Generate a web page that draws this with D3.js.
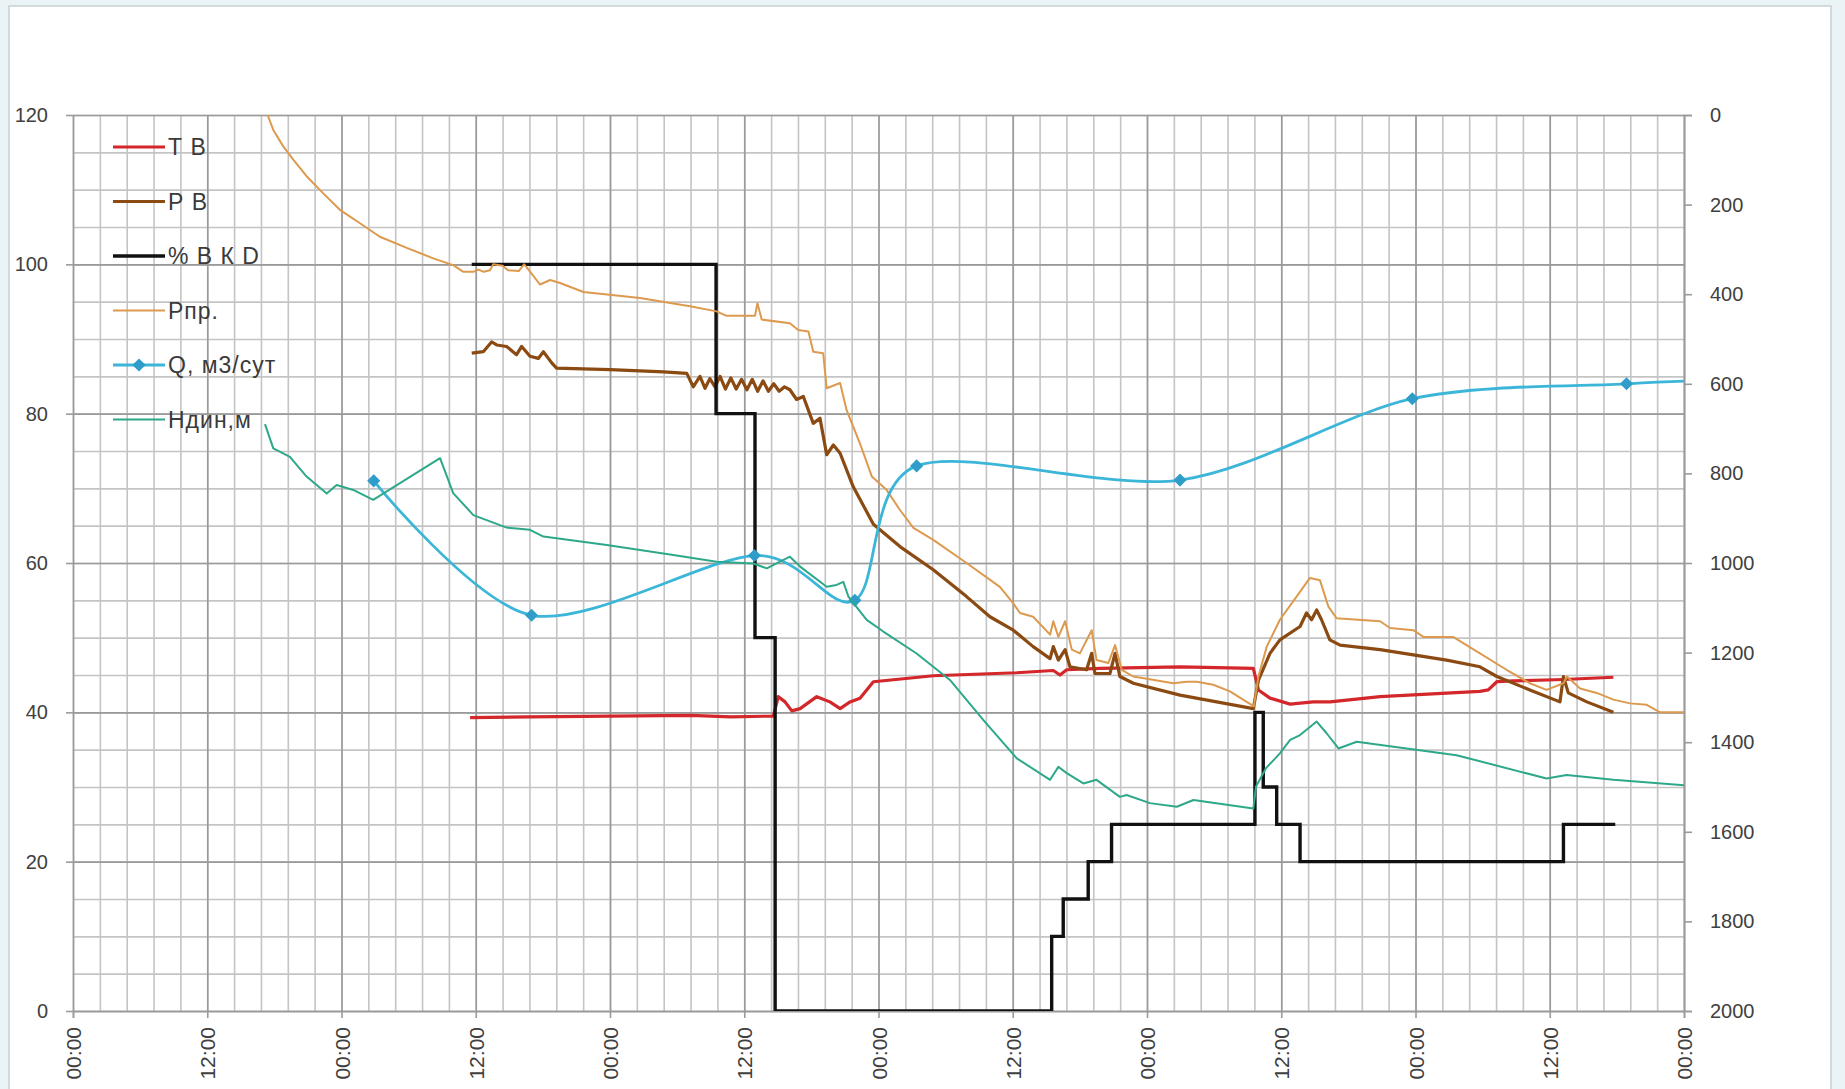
<!DOCTYPE html>
<html>
<head>
<meta charset="utf-8">
<script src="https://cdn.jsdelivr.net/npm/d3@7"></script>
<style>
  html, body { margin: 0; padding: 0; background: #eaf4f7; }
  svg { display: block; font-family: "Liberation Sans", Arial, sans-serif; }
</style>
</head>
<body>
<svg id="chart" width="1845" height="1089"></svg>
<script>
// ---- data: time in days from the start of the period, values as read ----
const xTickLabels = ["00:00","12:00","00:00","12:00","00:00","12:00","00:00","12:00","00:00","12:00","00:00","12:00","00:00"];
const leftTicks = [0, 20, 40, 60, 80, 100, 120];
const rightTicks = [0, 200, 400, 600, 800, 1000, 1200, 1400, 1600, 1800, 2000];

const seriesNames = ["Т В", "Р В", "% В К D", "Рпр.", "Q, м3/сут", "Ндин,м"];
const seriesColors = ["#d3272b", "#8a4a12", "#111111", "#dd9a4f", "#3cb6d8", "#2ea88a"];

// Т В (left axis)
const tempB = [
  [1.479,39.3],[1.70,39.4],[2.0,39.5],[2.3,39.6],[2.45,39.4],[2.608,39.5],
  [2.627,42.1],[2.652,41.4],[2.677,40.2],[2.708,40.5],[2.770,42.1],[2.819,41.4],
  [2.857,40.5],[2.894,41.4],[2.931,41.9],[2.981,44.1],[3.204,44.9],[3.515,45.3],
  [3.651,45.6],[3.676,45.0],[3.701,45.7],[3.825,45.9],[4.123,46.1],[4.396,45.9],
  [4.415,43.0],[4.458,41.9],[4.533,41.1],[4.619,41.4],[4.682,41.4],[4.868,42.1],
  [5.240,42.8],[5.271,43.0],[5.303,44.1],[5.364,44.2],[5.551,44.4],[5.737,44.7]
];

// Р В (left axis)
const pressB = [
  [1.485,88.1],[1.528,88.3],[1.559,89.6],[1.578,89.2],[1.615,89.0],[1.652,87.9],
  [1.671,89.0],[1.702,87.7],[1.733,87.4],[1.752,88.3],[1.783,86.8],[1.801,86.1],
  [2.0,85.9],[2.2,85.6],[2.286,85.4],[2.310,83.6],[2.335,85.0],[2.354,83.4],
  [2.372,84.7],[2.391,83.6],[2.41,85.0],[2.43,83.3],[2.45,84.8],[2.47,83.3],
  [2.49,84.6],[2.51,83.2],[2.53,84.6],[2.55,83.0],[2.57,84.4],[2.59,83.0],
  [2.61,84.0],[2.63,83.0],[2.65,83.6],[2.670,83.2],[2.695,81.9],[2.720,82.3],
  [2.757,78.7],[2.782,79.4],[2.807,74.5],[2.832,75.8],[2.857,74.7],[2.906,70.2],
  [2.981,65.2],[3.080,62.2],[3.204,59.1],[3.328,55.5],[3.415,52.8],[3.502,51.0],
  [3.576,48.8],[3.639,47.2],[3.651,48.8],[3.670,47.0],[3.695,48.4],[3.713,46.1],
  [3.775,45.7],[3.794,47.9],[3.806,45.2],[3.862,45.2],[3.881,47.9],[3.899,44.8],
  [3.949,43.9],[4.123,42.3],[4.396,40.5],[4.415,44.3],[4.458,47.9],[4.495,49.7],
  [4.570,51.5],[4.594,53.3],[4.613,52.4],[4.632,53.7],[4.650,52.4],[4.681,49.7],
  [4.719,49.0],[4.868,48.4],[5.116,47.0],[5.240,46.1],[5.303,44.8],[5.426,43.0],
  [5.538,41.4],[5.551,44.8],[5.569,42.6],[5.638,41.4],[5.737,40.0]
];

// % В К D (left axis, stepped)
const valveOpen = [
  [1.485,100],[2.395,80],[2.540,50],[2.615,0],[3.645,10],[3.688,15],[3.781,20],
  [3.868,25],[4.402,40],[4.433,30],[4.483,25],[4.570,20],[5.551,25],[5.744,25]
];

// Рпр. (left axis)
const pressIntake = [
  [0.715,121.0],[0.727,119.8],[0.746,118.0],[0.783,115.8],[0.821,114.0],[0.870,111.8],
  [0.932,109.5],[0.994,107.3],[1.069,105.5],[1.143,103.7],[1.243,102.2],[1.342,100.8],
  [1.416,99.9],[1.454,99.0],[1.491,99.0],[1.510,99.3],[1.530,99.0],[1.553,99.2],
  [1.565,100.0],[1.600,99.8],[1.620,99.2],[1.660,99.1],[1.680,100.0],[1.690,99.6],
  [1.739,97.3],[1.777,97.9],[1.814,97.5],[1.901,96.3],[2.112,95.5],[2.298,94.4],
  [2.397,93.7],[2.434,93.1],[2.540,93.1],[2.549,94.8],[2.565,92.6],[2.670,92.1],
  [2.701,91.2],[2.739,91.0],[2.757,88.3],[2.794,88.1],[2.807,83.4],[2.857,84.1],
  [2.881,80.5],[2.931,76.0],[2.975,71.6],[3.030,69.8],[3.080,67.1],[3.130,64.7],
  [3.204,63.1],[3.328,60.0],[3.452,56.8],[3.502,54.6],[3.527,53.3],[3.576,52.8],
  [3.639,50.4],[3.651,52.2],[3.670,50.1],[3.695,52.2],[3.720,48.4],[3.750,47.9],
  [3.794,51.0],[3.812,47.0],[3.856,46.6],[3.881,49.0],[3.906,45.7],[3.949,44.8],
  [4.098,43.9],[4.148,44.1],[4.185,44.1],[4.247,43.7],[4.309,42.8],[4.398,40.8],
  [4.415,44.8],[4.446,48.8],[4.495,52.4],[4.557,55.5],[4.607,58.0],[4.644,57.7],
  [4.675,54.2],[4.706,52.6],[4.868,52.2],[4.905,51.3],[4.992,51.0],[5.029,50.1],
  [5.140,50.1],[5.240,47.9],[5.339,45.7],[5.426,43.9],[5.488,43.0],[5.551,43.9],
  [5.564,44.8],[5.613,43.2],[5.675,42.6],[5.737,41.7],[5.799,41.2],[5.861,41.0],
  [5.911,40.0],[6.0,40.0]
];

// Q, м3/сут (left axis, smoothed, with markers)
const flowQ = [
  [1.120,71.0],[1.708,53.0],[2.538,61.0],[2.912,55.0],[3.142,73.0],
  [4.123,71.1],[4.988,82.0],[5.786,84.0],[6.05,84.4]
];

// Ндин,м (right axis, reversed)
const dynLevel = [
  [0.715,690],[0.746,744],[0.808,763],[0.870,807],[0.945,845],[0.982,826],
  [1.044,837],[1.118,859],[1.367,766],[1.416,844],[1.491,893],[1.615,921],
  [1.702,926],[1.752,941],[1.988,960],[2.236,982],[2.397,997],[2.534,1001],
  [2.584,1012],[2.670,986],[2.708,1008],[2.807,1053],[2.844,1049],[2.869,1042],
  [2.888,1075],[2.956,1127],[3.018,1153],[3.142,1202],[3.266,1261],[3.390,1350],
  [3.515,1436],[3.639,1484],[3.670,1455],[3.701,1469],[3.763,1492],[3.812,1484],
  [3.899,1522],[3.924,1518],[4.011,1536],[4.111,1544],[4.173,1529],[4.396,1548],
  [4.406,1499],[4.443,1458],[4.495,1425],[4.533,1395],[4.570,1384],[4.632,1354],
  [4.669,1380],[4.713,1414],[4.781,1399],[5.153,1429],[5.488,1481],[5.563,1473],
  [5.737,1484],[6.0,1496]
];

// ---- layout ----
const svg = d3.select("#chart");
const plot = { left: 73, right: 1684, top: 115, bottom: 1011 };

// chart frame
svg.append("rect")
  .attr("x", 9).attr("y", 6).attr("width", 1822).attr("height", 1100)
  .attr("fill", "#ffffff").attr("stroke", "#c9cfd2").attr("stroke-width", 1.5);

const x = d3.scaleLinear().domain([0, 6]).range([plot.left, plot.right]);
const yL = d3.scaleLinear().domain([0, 120]).range([plot.bottom, plot.top]);
const yR = d3.scaleLinear().domain([0, 2000]).range([plot.top, plot.bottom]);

const grid = svg.append("g");

// minor grid
grid.append("g")
  .attr("transform", `translate(0,${plot.bottom})`)
  .call(d3.axisBottom(x).tickValues(d3.range(0, 60.5, 1).map(d => d / 10)).tickSize(-(plot.bottom - plot.top)).tickFormat(""))
  .call(g => g.select(".domain").remove())
  .call(g => g.selectAll("line").attr("stroke", "#c4c4c4").attr("stroke-width", 1.6));
grid.append("g")
  .attr("transform", `translate(${plot.left},0)`)
  .call(d3.axisLeft(yL).tickValues(d3.range(0, 121, 5)).tickSize(-(plot.right - plot.left)).tickFormat(""))
  .call(g => g.select(".domain").remove())
  .call(g => g.selectAll("line").attr("stroke", "#c4c4c4").attr("stroke-width", 1.6));

// major grid
grid.append("g")
  .attr("transform", `translate(0,${plot.bottom})`)
  .call(d3.axisBottom(x).tickValues(d3.range(0, 13).map(d => d / 2)).tickSize(-(plot.bottom - plot.top)).tickFormat(""))
  .call(g => g.select(".domain").remove())
  .call(g => g.selectAll("line").attr("stroke", "#9a9a9a").attr("stroke-width", 1.6));
grid.append("g")
  .attr("transform", `translate(${plot.left},0)`)
  .call(d3.axisLeft(yL).tickValues(leftTicks).tickSize(-(plot.right - plot.left)).tickFormat(""))
  .call(g => g.select(".domain").remove())
  .call(g => g.selectAll("line").attr("stroke", "#9a9a9a").attr("stroke-width", 1.6));

// axes with labels
const labelColor = "#404040";
const xAxis = svg.append("g")
  .attr("transform", `translate(0,${plot.bottom})`)
  .call(d3.axisBottom(x).tickValues(d3.range(0, 13).map(d => d / 2)).tickSize(7).tickPadding(6)
    .tickFormat((d, i) => xTickLabels[i]));
xAxis.select(".domain").attr("stroke", "#9a9a9a").attr("stroke-width", 1.6);
xAxis.selectAll(".tick line").attr("stroke", "#9a9a9a").attr("stroke-width", 1.6);
xAxis.selectAll(".tick text")
  .attr("fill", labelColor).attr("font-size", 21)
  .attr("transform", "rotate(-90)")
  .attr("text-anchor", "end").attr("dy", "0.36em").attr("x", -16).attr("y", 0);

const yAxisL = svg.append("g")
  .attr("transform", `translate(${plot.left},0)`)
  .call(d3.axisLeft(yL).tickValues(leftTicks).tickSize(7).tickPadding(18));
yAxisL.select(".domain").remove();
yAxisL.selectAll(".tick line").attr("stroke", "#9a9a9a").attr("stroke-width", 1.6);
yAxisL.selectAll(".tick text").attr("fill", labelColor).attr("font-size", 20);

const yAxisR = svg.append("g")
  .attr("transform", `translate(${plot.right},0)`)
  .call(d3.axisRight(yR).tickValues(rightTicks).tickSize(8).tickPadding(18).tickFormat(d3.format("d")));
yAxisR.select(".domain").attr("stroke", "#9a9a9a").attr("stroke-width", 1.6);
yAxisR.selectAll(".tick line").attr("stroke", "#9a9a9a").attr("stroke-width", 1.6);
yAxisR.selectAll(".tick text").attr("fill", labelColor).attr("font-size", 20);

// ---- series ----
svg.append("clipPath").attr("id", "plotClip")
  .append("rect").attr("x", plot.left).attr("y", plot.top)
  .attr("width", plot.right - plot.left).attr("height", plot.bottom - plot.top);
const layer = svg.append("g").attr("clip-path", "url(#plotClip)");

const lineL = d3.line().x(d => x(d[0])).y(d => yL(d[1]));
const stepL = d3.line().x(d => x(d[0])).y(d => yL(d[1])).curve(d3.curveStepAfter);
const smoothL = d3.line().x(d => x(d[0])).y(d => yL(d[1])).curve(d3.curveCardinal.tension(0.1));
const lineR = d3.line().x(d => x(d[0])).y(d => yR(d[1]));
const diamond = d3.symbol(d3.symbolDiamond2, 110);

layer.append("path").datum(tempB).attr("d", lineL)
  .attr("fill", "none").attr("stroke", seriesColors[0]).attr("stroke-width", 3.2).attr("stroke-linejoin", "round");
layer.append("path").datum(pressB).attr("d", lineL)
  .attr("fill", "none").attr("stroke", seriesColors[1]).attr("stroke-width", 3.2).attr("stroke-linejoin", "round");
layer.append("path").datum(valveOpen).attr("d", stepL)
  .attr("fill", "none").attr("stroke", seriesColors[2]).attr("stroke-width", 3.4);
layer.append("path").datum(pressIntake).attr("d", lineL)
  .attr("fill", "none").attr("stroke", seriesColors[3]).attr("stroke-width", 2).attr("stroke-linejoin", "round");
layer.append("path").datum(flowQ).attr("d", smoothL)
  .attr("fill", "none").attr("stroke", seriesColors[4]).attr("stroke-width", 2.8);
layer.selectAll(".qmark").data(flowQ).enter().append("path")
  .attr("class", "qmark")
  .attr("d", diamond)
  .attr("transform", d => `translate(${x(d[0])},${yL(d[1])})`)
  .attr("fill", "#2f9dc9");
layer.append("path").datum(dynLevel).attr("d", lineR)
  .attr("fill", "none").attr("stroke", seriesColors[5]).attr("stroke-width", 2).attr("stroke-linejoin", "round");

// ---- legend ----
const legend = svg.append("g").attr("transform", "translate(113,147)");
const rowGap = 54.5;
const legendWidths = [3.2, 3.2, 3.4, 2, 2.8, 2];
seriesNames.forEach((name, i) => {
  const row = legend.append("g").attr("transform", `translate(0,${i * rowGap})`);
  row.append("line").attr("x1", 0).attr("x2", 52).attr("y1", 0).attr("y2", 0)
    .attr("stroke", seriesColors[i]).attr("stroke-width", legendWidths[i]);
  if (i === 4) {
    row.append("path").attr("d", diamond)
      .attr("transform", "translate(26,0)").attr("fill", "#2f9dc9");
  }
  row.append("text").attr("x", 55).attr("y", 0).attr("dy", "0.36em")
    .attr("font-size", 23).attr("letter-spacing", 1).attr("fill", "#3a3a3a").text(name);
});
</script>
</body>
</html>
